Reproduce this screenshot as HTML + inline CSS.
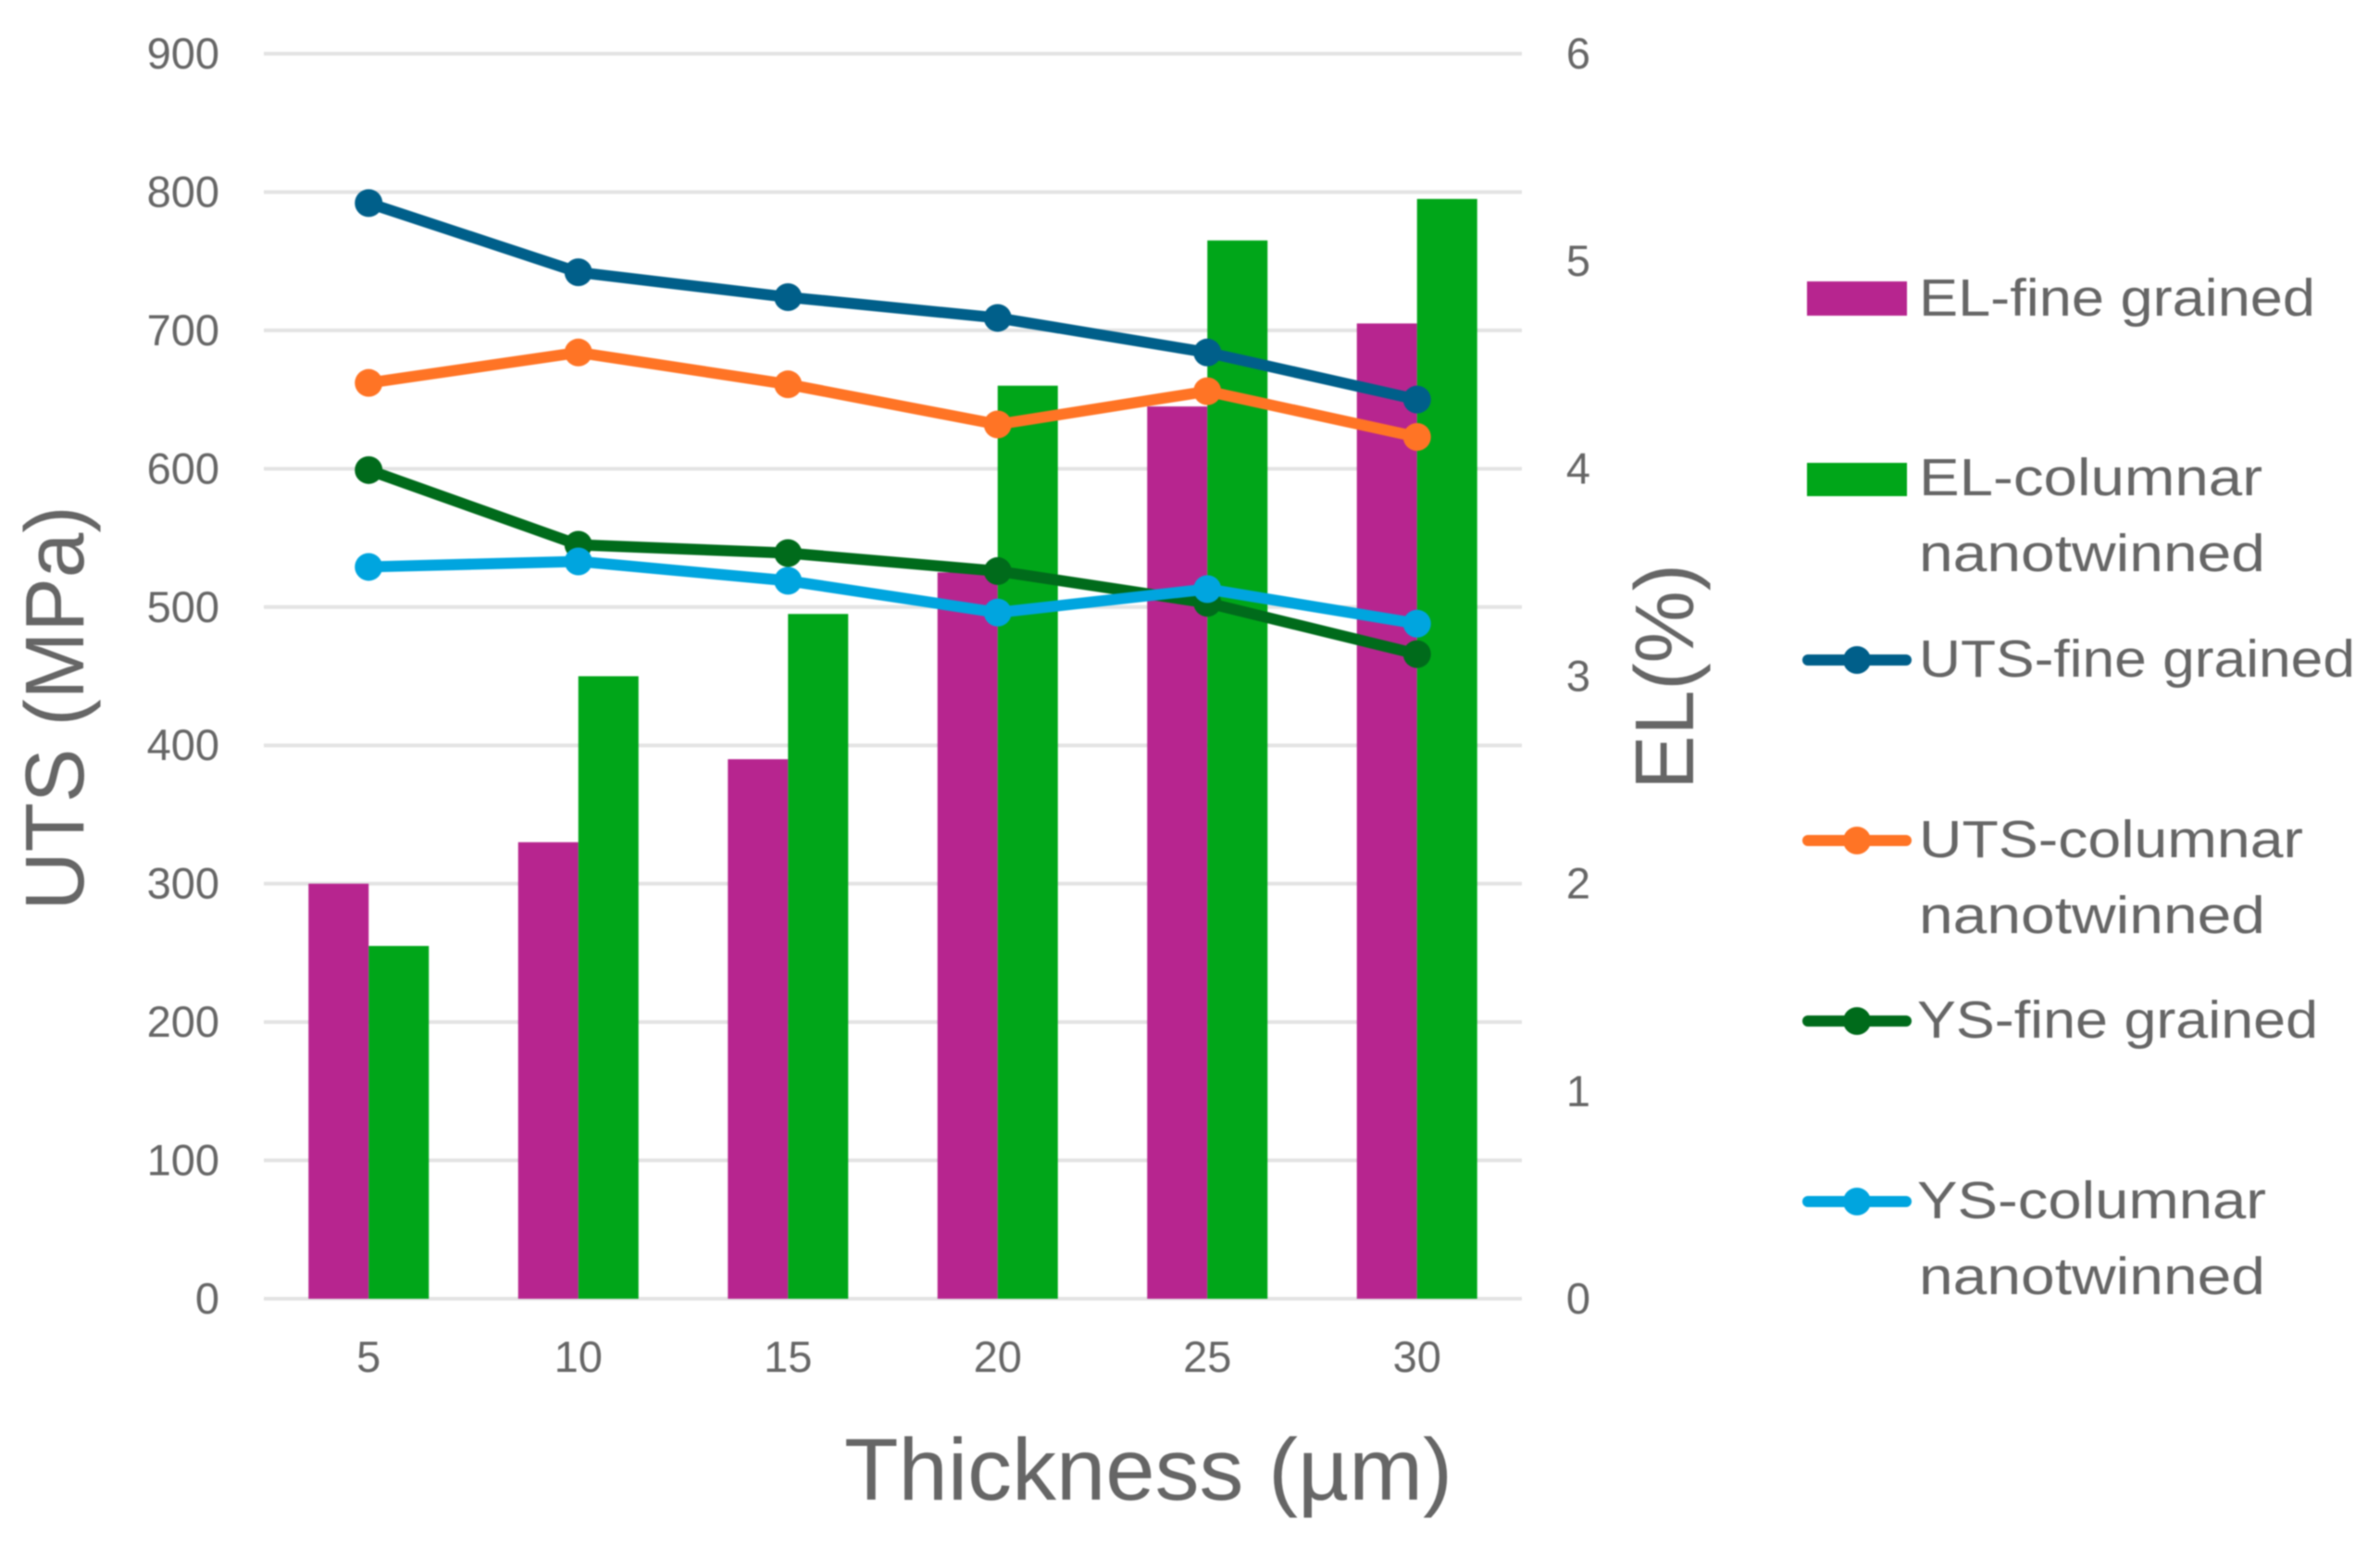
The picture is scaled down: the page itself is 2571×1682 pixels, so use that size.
<!DOCTYPE html>
<html lang="en">
<head>
<meta charset="utf-8">
<title>UTS, YS and EL versus thickness</title>
<style>
html,body{margin:0;padding:0;background:#fff;width:2571px;height:1682px;overflow:hidden}
svg{display:block;filter:blur(0.9px)}
text{font-family:"Liberation Sans",sans-serif;fill:#666}
</style>
</head>
<body>
<svg id="chart" xmlns="http://www.w3.org/2000/svg" width="2571" height="1682" viewBox="0 0 2571 1682">
  <rect width="2571" height="1682" fill="#fff"/>
  <g id="grid"></g>
  <g id="bars"></g>
  <g id="lines"></g>
  <g id="ticks"></g>

  <text transform="translate(90,765) rotate(-90)" text-anchor="middle" font-size="90" textLength="437" lengthAdjust="spacingAndGlyphs">UTS (MPa)</text>
  <text transform="translate(1829,731) rotate(-90)" text-anchor="middle" font-size="90" textLength="244" lengthAdjust="spacingAndGlyphs">EL(%)</text>
  <text x="912" y="1620" font-size="95" textLength="657" lengthAdjust="spacingAndGlyphs">Thickness (µm)</text>

  <g>
    <g>
      <rect x="1952" y="304" width="108" height="37" fill="#B7258F"/>
      <text x="2073" y="341" font-size="57" textLength="428" lengthAdjust="spacingAndGlyphs">EL-fine grained</text>
    </g>
    <g>
      <rect x="1952" y="500" width="108" height="36" fill="#00A619"/>
      <text x="2073" y="535" font-size="57" textLength="371" lengthAdjust="spacingAndGlyphs">EL-columnar</text>
      <text x="2073" y="617" font-size="57" textLength="374" lengthAdjust="spacingAndGlyphs">nanotwinned</text>
    </g>
    <g>
      <line x1="1953" x2="2059" y1="713" y2="713" stroke="#005F8A" stroke-width="12" stroke-linecap="round"/>
      <circle cx="2006" cy="713" r="15" fill="#005F8A"/>
      <text x="2073" y="731" font-size="57" textLength="471" lengthAdjust="spacingAndGlyphs">UTS-fine grained</text>
    </g>
    <g>
      <line x1="1953" x2="2059" y1="908" y2="908" stroke="#FF7425" stroke-width="12" stroke-linecap="round"/>
      <circle cx="2006" cy="908" r="15" fill="#FF7425"/>
      <text x="2073" y="926" font-size="57" textLength="415" lengthAdjust="spacingAndGlyphs">UTS-columnar</text>
      <text x="2073" y="1008" font-size="57" textLength="374" lengthAdjust="spacingAndGlyphs">nanotwinned</text>
    </g>
    <g>
      <line x1="1953" x2="2059" y1="1103" y2="1103" stroke="#006B1B" stroke-width="12" stroke-linecap="round"/>
      <circle cx="2006" cy="1103" r="15" fill="#006B1B"/>
      <text x="2071" y="1121" font-size="57" textLength="433" lengthAdjust="spacingAndGlyphs">YS-fine grained</text>
    </g>
    <g>
      <line x1="1953" x2="2059" y1="1298" y2="1298" stroke="#00A5DF" stroke-width="12" stroke-linecap="round"/>
      <circle cx="2006" cy="1298" r="15" fill="#00A5DF"/>
      <text x="2071" y="1316" font-size="57" textLength="377" lengthAdjust="spacingAndGlyphs">YS-columnar</text>
      <text x="2073" y="1398" font-size="57" textLength="374" lengthAdjust="spacingAndGlyphs">nanotwinned</text>
    </g>
  </g>
</svg>
<script>
const categories = [5, 10, 15, 20, 25, 30];
const leftTicks = [0, 100, 200, 300, 400, 500, 600, 700, 800, 900];
const rightTicks = [0, 1, 2, 3, 4, 5, 6];
const elFine = [2.0, 2.2, 2.6, 3.5, 4.3, 4.7];
const elColumnar = [1.7, 3.0, 3.3, 4.4, 5.1, 5.3];
const utsFine = [792, 742, 724, 709, 684, 650];
const utsColumnar = [662, 684, 661, 632, 656, 623];
const ysFine = [599, 545, 539, 526, 503, 466];
const ysColumnar = [529, 533, 519, 496, 513, 488];

const NS = 'http://www.w3.org/2000/svg';
const plot = { left: 285, right: 1644, bottom: 1403, top: 58 };
const leftMax = 900;
const rightMax = 6;
const barWidth = 65;

function xScale(i) {
  const band = (plot.right - plot.left) / categories.length;
  return plot.left + band * (i + 0.5);
}
function yLeft(v) {
  return plot.bottom - (v / leftMax) * (plot.bottom - plot.top);
}
function yRight(v) {
  return plot.bottom - (v / rightMax) * (plot.bottom - plot.top);
}
function make(tag, attrs, parent, content) {
  const el = document.createElementNS(NS, tag);
  for (const key in attrs) el.setAttribute(key, attrs[key]);
  if (content !== undefined) el.textContent = content;
  parent.appendChild(el);
  return el;
}

const gridGroup = document.getElementById('grid');
const barsGroup = document.getElementById('bars');
const linesGroup = document.getElementById('lines');
const ticksGroup = document.getElementById('ticks');

leftTicks.forEach(function (t) {
  const y = yLeft(t);
  const gridLine = make('line', { x1: plot.left, x2: plot.right, y1: y, y2: y, stroke: '#E3E3E3', 'stroke-width': 4 }, gridGroup);
  
  
  const label = make('text', { x: 237, y: y + 16, 'text-anchor': 'end', 'font-size': 47 }, ticksGroup, String(t));
  
  
});

rightTicks.forEach(function (t) {
  const label = make('text', { x: 1705, y: yRight(t) + 16, 'text-anchor': 'middle', 'font-size': 47 }, ticksGroup, String(t));
  
  
});

categories.forEach(function (c, i) {
  const label = make('text', { x: xScale(i), y: 1482, 'text-anchor': 'middle', 'font-size': 47 }, ticksGroup, String(c));
  
  

  const fineTop = yRight(elFine[i]);
  const fineBar = make('rect', { x: xScale(i) - barWidth, y: fineTop, width: barWidth, height: plot.bottom - fineTop, fill: '#B7258F' }, barsGroup);
  
  

  const colTop = yRight(elColumnar[i]);
  const colBar = make('rect', { x: xScale(i), y: colTop, width: barWidth, height: plot.bottom - colTop, fill: '#00A619' }, barsGroup);
  
  
});

function drawLine(values, color, name) {
  const pts = values.map(function (v, i) { return xScale(i) + ',' + yLeft(v); }).join(' ');
  const line = make('polyline', { points: pts, fill: 'none', stroke: color, 'stroke-width': 12, 'stroke-linejoin': 'round', 'stroke-linecap': 'round' }, linesGroup);
  
  
  values.forEach(function (v, i) {
    const dot = make('circle', { cx: xScale(i), cy: yLeft(v), r: 15, fill: color }, linesGroup);
    
    
  });
}

drawLine(utsFine, '#005F8A', 'uts-fine-grained');
drawLine(utsColumnar, '#FF7425', 'uts-columnar');
drawLine(ysFine, '#006B1B', 'ys-fine-grained');
drawLine(ysColumnar, '#00A5DF', 'ys-columnar');
</script>
</body>
</html>
